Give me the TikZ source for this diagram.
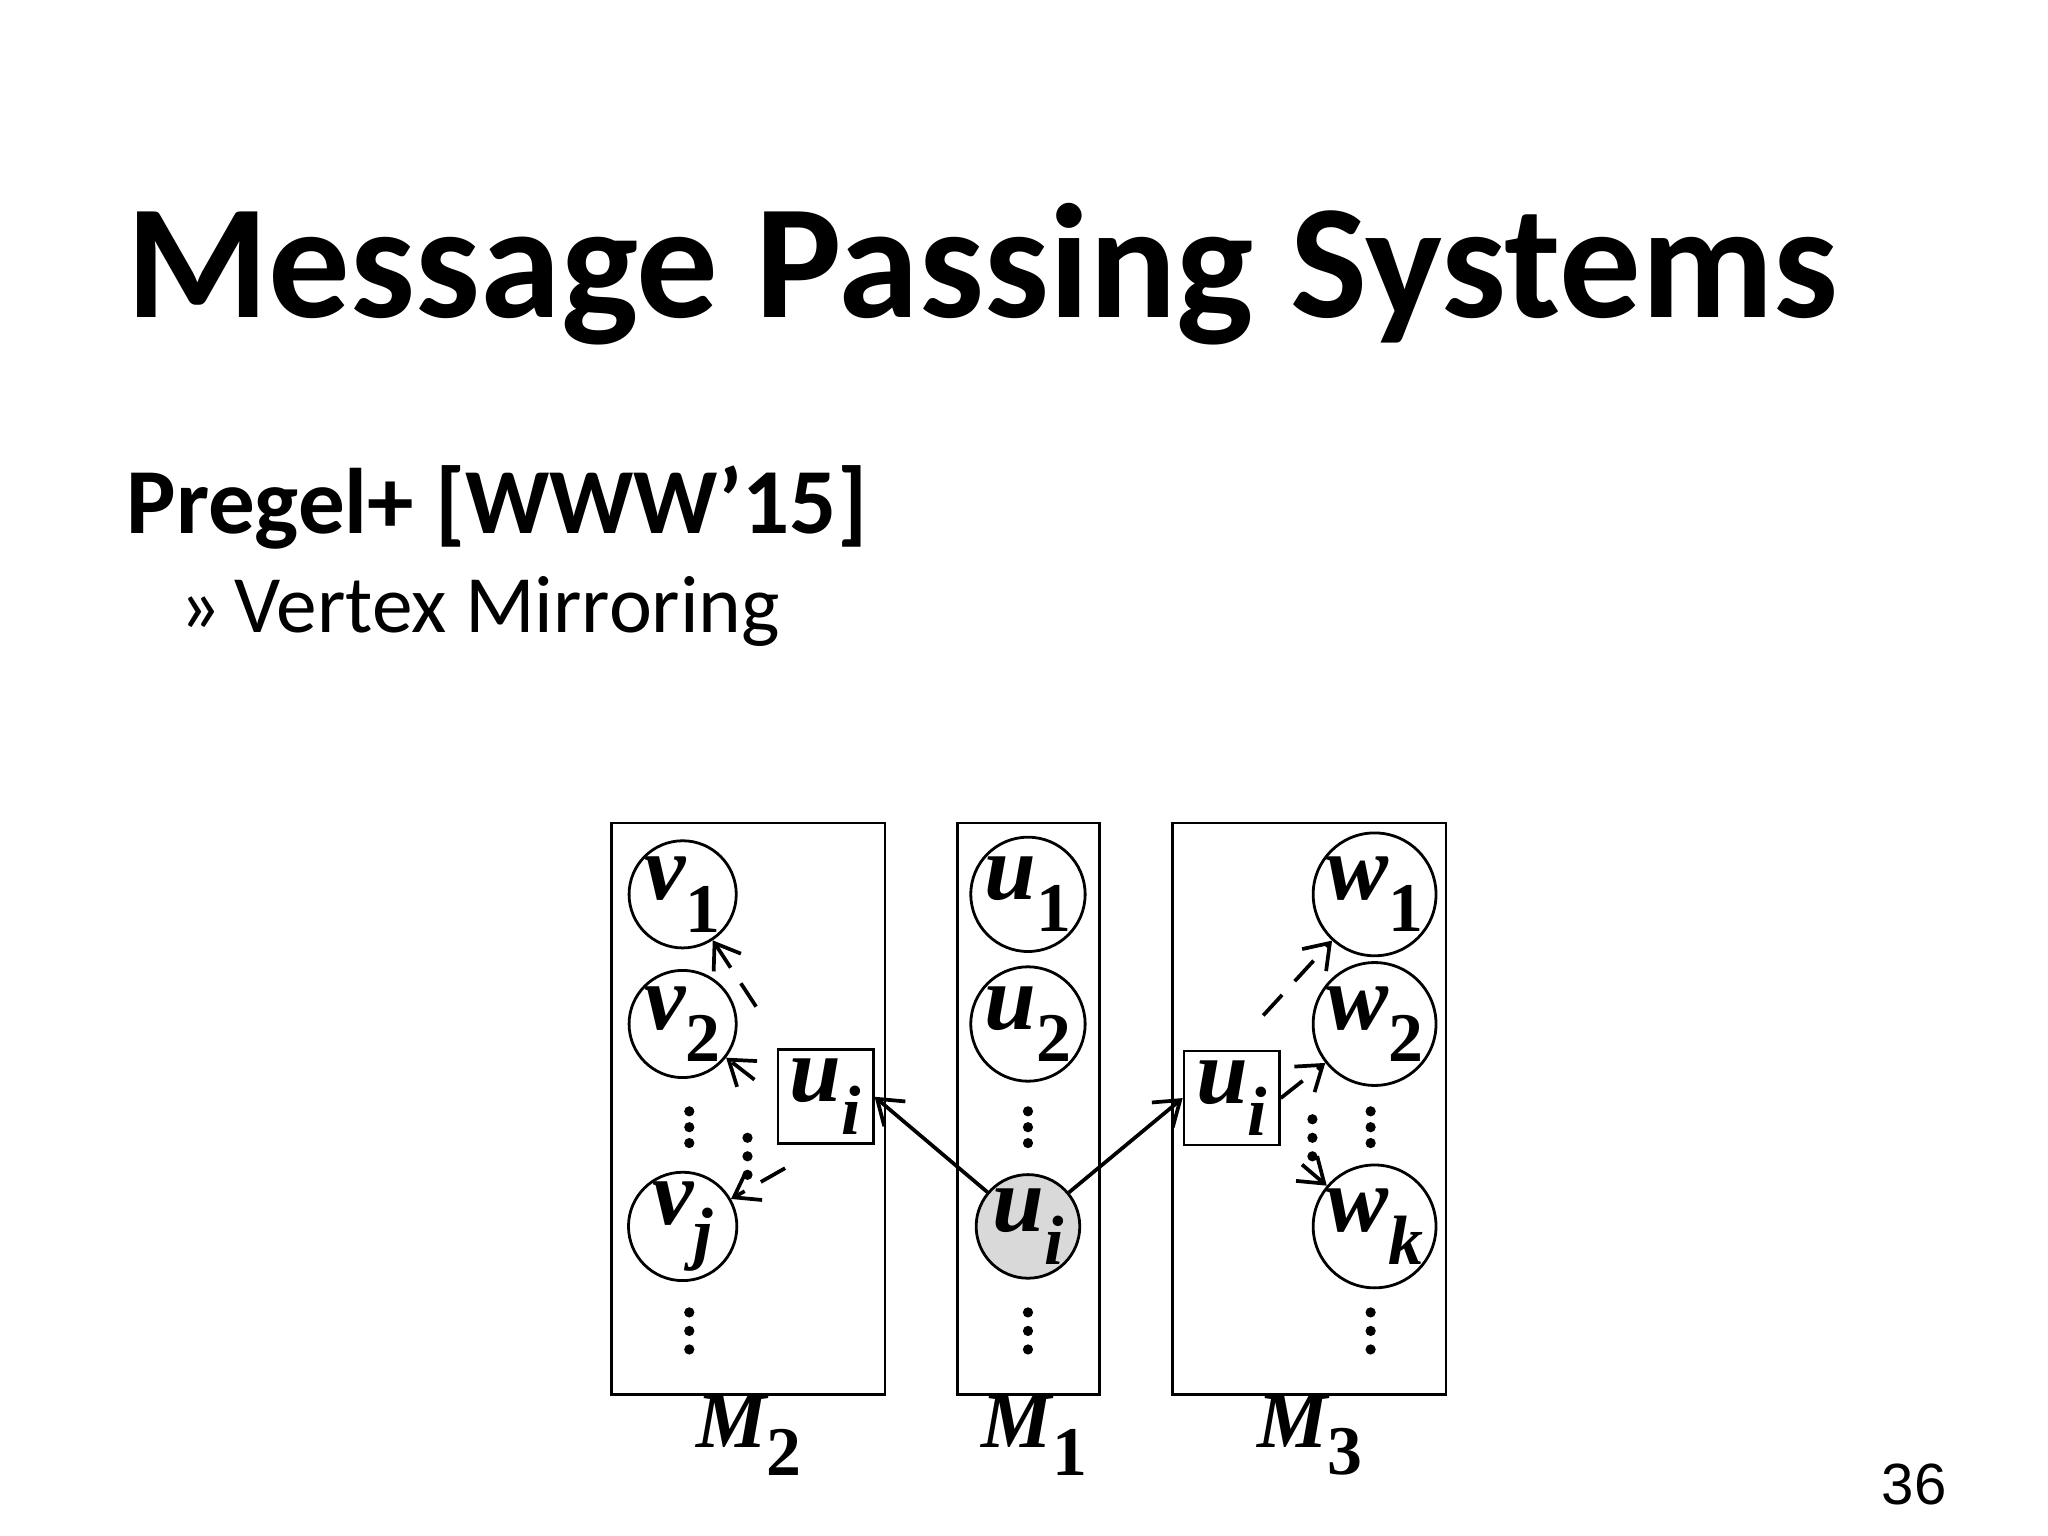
\documentclass[tikz,border=0pt]{standalone}
\usepackage{fontspec}
\setmainfont{Carlito}
\newfontfamily\tnr{Liberation Serif}
\newfontfamily\arl{Liberation Sans}
\usetikzlibrary{arrows.meta}
\newcommand{\lab}[2]{{\tnr\bfseries\itshape #1}\raisebox{-0.35em}{\tnr\bfseries\fontsize{15}{15}\selectfont #2}}
\begin{document}
\begin{tikzpicture}[x=0.01cm,y=-0.01cm,
  vert/.style={circle,draw,line width=0.6pt,minimum size=0.72cm,inner sep=0pt,font=\fontsize{20}{20}\selectfont},
  mir/.style={rectangle,draw,line width=0.6pt,minimum width=0.72cm,minimum height=0.71cm,inner sep=0pt,font=\fontsize{20}{20}\selectfont},
  mach/.style={draw,line width=0.6pt},
  arr/.style={-{Straight Barb[length=5pt,width=7pt]},line width=0.8pt},
  dsh/.style={arr,dash pattern=on 6pt off 4pt},
  dt/.style={circle,fill,inner sep=0pt,minimum size=2.2pt}]
\useasboundingbox (0,0) rectangle (1548,1161);
\node[anchor=base west,inner sep=0pt,font=\fontsize{35}{35}\selectfont\bfseries] (title) at (95,240) {Message Passing Systems};
\node[anchor=base west,inner sep=0pt,font=\fontsize{20}{20}\selectfont\bfseries] (sub) at (95,403) {Pregel+ [WWW’15]};
\node[anchor=base west,inner sep=0pt,font=\fontsize{17.5}{17.5}\selectfont] (item) at (135,478) {»\,Vertex Mirroring};
\node[anchor=base east,inner sep=0pt,font=\arl\fontsize{12.5}{12.5}\selectfont] (page) at (1472,1137) {36};
% machines
\draw[mach] (462,622) rectangle (669,1054);
\draw[mach] (724,622) rectangle (831,1054);
\draw[mach] (886,622) rectangle (1093,1054);
\node[font=\fontsize{17}{17}\selectfont] (m2) at (566,1085) {\lab{M}{2}};
\node[font=\fontsize{17}{17}\selectfont] (m1) at (782,1085) {\lab{M}{1}};
\node[font=\fontsize{17}{17}\selectfont] (m3) at (990,1085) {\lab{M}{3}};
% vertices
\node[vert] (v1) at (516,676) {\lab{v}{1}};
\node[vert] (v2) at (516,774) {\lab{v}{2}};
\node[vert] (vj) at (516,927) {\lab{v}{\itshape j}};
\node[vert] (u1) at (777,676) {\lab{u}{1}};
\node[vert] (u2) at (777,774) {\lab{u}{2}};
\node[vert,fill=black!15] (ui) at (777,927) {\lab{u}{\itshape i}};
\node[vert] (w1) at (1039,676) {\lab{w}{1}};
\node[vert] (w2) at (1039,774) {\lab{w}{2}};
\node[vert] (wk) at (1039,927) {\lab{w}{\itshape k}};
\node[mir] (ml) at (624,829) {\lab{u}{\itshape i}};
\node[mir] (mr) at (931,830) {\lab{u}{\itshape i}};
% arrows
\draw[arr] (ui) -- (ml.east);
\draw[arr] (ui) -- (mr.west);
\draw[dsh,shorten <=8pt] (ml.north west) ++(0,-8) coordinate (a1) -- (v1);
\draw[dsh,shorten <=6pt] (ml.west) -- (v2);
\draw[dsh,shorten <=10pt] (ml.south) -- (vj);
\draw[dsh,shorten <=10pt] (mr.north) -- (w1);
\draw[dsh] (mr.east) -- (w2);
\draw[dsh,shorten <=6pt] (mr.south east) -- (wk);
% dots
\foreach \x in {521,777,1036}{
  \foreach \y in {840,852,864,992,1006,1020}{\node[dt] at (\x,\y) {};}}
\foreach \y in {860,874,888}{\node[dt] at (565,\y) {};}
\foreach \y in {846,860,874}{\node[dt] at (992,\y) {};}
\end{tikzpicture}
\end{document}
